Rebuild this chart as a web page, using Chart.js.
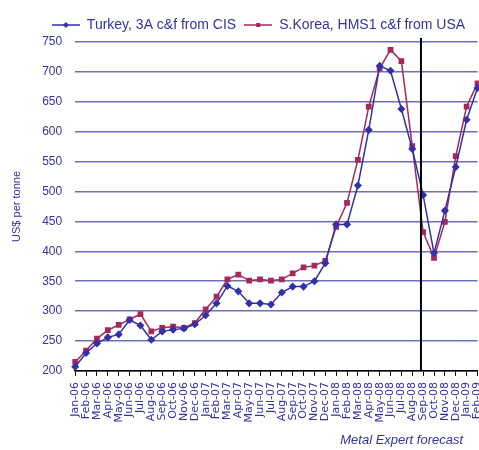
<!DOCTYPE html>
<html>
<head>
<meta charset="utf-8">
<script src="https://cdn.jsdelivr.net/npm/chart.js@4/dist/chart.umd.min.js"></script>
<style>
html, body { margin: 0; padding: 0; background: #fff; overflow: hidden; }
#wrap { width: 483px; height: 450px; }
</style>
</head>
<body>
<div id="wrap"><canvas id="chart"></canvas></div>
<script>
// monthly categories
const months = [
    'Jan-06', 'Feb-06', 'Mar-06', 'Apr-06', 'May-06', 'Jun-06', 'Jul-06', 'Aug-06', 'Sep-06', 'Oct-06', 'Nov-06', 'Dec-06',
    'Jan-07', 'Feb-07', 'Mar-07', 'Apr-07', 'May-07', 'Jun-07', 'Jul-07', 'Aug-07', 'Sep-07', 'Oct-07', 'Nov-07', 'Dec-07',
    'Jan-08', 'Feb-08', 'Mar-08', 'Apr-08', 'May-08', 'Jun-08', 'Jul-08', 'Aug-08', 'Sep-08', 'Oct-08', 'Nov-08', 'Dec-08',
    'Jan-09', 'Feb-09'
];

const turkey = [
    207, 230, 246, 256, 261, 285, 276, 252, 266, 269, 271, 278,
    293, 313, 342, 333, 313, 313, 311, 331, 341, 341, 350, 380,
    445, 445, 510, 603, 710, 702, 638, 571, 494, 397, 468, 541,
    620, 673
];

const korea = [
    215, 234, 254, 268, 277, 286, 295, 266, 272, 274, 272, 280,
    303, 324, 353, 361, 351, 353, 351, 353, 363, 373, 376, 384,
    441, 481, 553, 642, 706, 737, 718, 576, 432, 389, 449, 559,
    642, 681
];

const yTicks = [200, 250, 300, 350, 400, 450, 500, 550, 600, 650, 700, 750];
const forecastLineAt = 31.8;

const textColor = '#33339a';
const blue = '#3232a6';
const red = '#a5285c';

function legendSwatch(color, style) {
    const c = document.createElement('canvas');
    c.width = 28;
    c.height = 10;
    const g = c.getContext('2d');
    g.strokeStyle = color;
    g.fillStyle = color;
    g.lineWidth = 1.5;
    g.beginPath();
    g.moveTo(0, 5);
    g.lineTo(28, 5);
    g.stroke();
    if (style === 'rect') {
        g.fillRect(12, 3, 4, 4);
    } else {
        g.beginPath();
        g.moveTo(14, 2); g.lineTo(17, 5); g.lineTo(14, 8); g.lineTo(11, 5);
        g.closePath();
        g.fill();
    }
    return c;
}

const forecastLine = {
    id: 'forecastLine',
    afterDatasetsDraw(chart) {
        const ctx = chart.ctx;
        const area = chart.chartArea;
        const x = chart.scales.x.getPixelForValue(forecastLineAt);
        ctx.save();
        ctx.strokeStyle = '#000';
        ctx.lineWidth = 2;
        ctx.beginPath();
        ctx.moveTo(x, area.top - 4);
        ctx.lineTo(x, area.bottom);
        ctx.stroke();
        ctx.restore();
    }
};

const shiftLegend = {
    id: 'shiftLegend',
    afterLayout(chart) {
        chart.legend.left += 12;
        chart.legend.right += 12;
    }
};

new Chart(document.getElementById('chart'), {
    type: 'line',
    data: {
        labels: months,
        datasets: [{
            label: 'Turkey, 3A c&f from CIS',
            data: turkey,
            borderColor: blue,
            backgroundColor: blue,
            borderWidth: 1.5,
            pointStyle: 'rectRot',
            pointRadius: 3,
            tension: 0
        }, {
            label: 'S.Korea, HMS1 c&f from USA',
            data: korea,
            borderColor: red,
            backgroundColor: red,
            borderWidth: 1.5,
            pointStyle: 'rect',
            pointRadius: 3,
            tension: 0
        }]
    },
    options: {
        responsive: true,
        maintainAspectRatio: false,
        animation: false,
        layout: { padding: { top: 10, left: 10, right: 0, bottom: 2 } },
        plugins: {
            tooltip: { enabled: false },
            legend: {
                position: 'top',
                labels: {
                    usePointStyle: true,
                    pointStyleWidth: 28,
                    boxHeight: 10,
                    padding: 8,
                    color: textColor,
                    font: { family: 'Liberation Sans', size: 14 },
                    generateLabels(chart) {
                        return chart.data.datasets.map((ds, i) => ({
                            text: ds.label,
                            fontColor: textColor,
                            pointStyle: legendSwatch(ds.borderColor, ds.pointStyle),
                            lineWidth: 0,
                            strokeStyle: 'transparent',
                            fillStyle: 'transparent',
                            datasetIndex: i
                        }));
                    }
                }
            }
        },
        scales: {
            x: {
                afterFit(scale) {
                    scale.paddingRight = 0;
                },
                grid: { drawOnChartArea: false, color: '#000', tickLength: 5, lineWidth: 1 },
                border: { color: '#000', width: 1.5 },
                ticks: {
                    autoSkip: false,
                    maxRotation: 90,
                    minRotation: 90,
                    padding: 6,
                    color: textColor,
                    font: { family: 'DejaVu Sans', size: 11 }
                },
                title: {
                    display: true,
                    text: 'Metal Expert forecast\u00a0\u00a0\u00a0\u00a0',
                    align: 'end',
                    color: textColor,
                    font: { family: 'Liberation Sans', size: 13, style: 'italic' },
                    padding: { top: 4, bottom: 0 }
                }
            },
            y: {
                min: yTicks[0],
                max: yTicks[yTicks.length - 1],
                afterBuildTicks(scale) {
                    scale.ticks = yTicks.map(v => ({ value: v }));
                },
                grid: { color: 'rgba(95,95,175,0.9)', lineWidth: 1.5, drawTicks: false },
                border: { display: false },
                ticks: {
                    padding: 13,
                    color: textColor,
                    font: { family: 'Liberation Sans', size: 12 }
                },
                title: {
                    display: true,
                    text: 'US$ per tonne',
                    color: textColor,
                    font: { family: 'Liberation Sans', size: 11 },
                    padding: { top: 0, bottom: 6 }
                }
            }
        }
    },
    plugins: [forecastLine, shiftLegend]
});
</script>
</body>
</html>
